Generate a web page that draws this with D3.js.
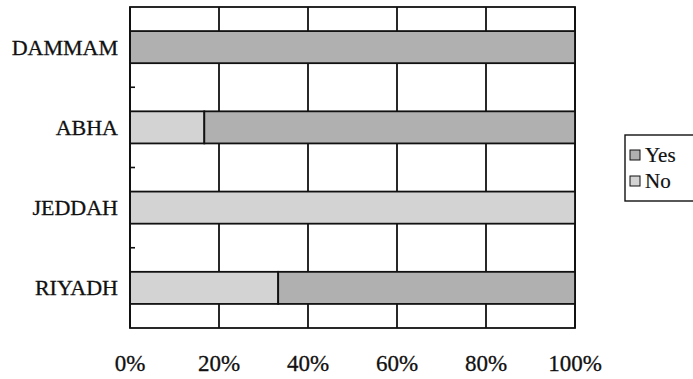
<!DOCTYPE html>
<html>
<head>
<meta charset="utf-8">
<script src="https://cdn.jsdelivr.net/npm/d3@7"></script>
<style>
  html, body { margin: 0; padding: 0; background: #fff; }
  svg { display: block; }
</style>
</head>
<body>
<svg id="chart" width="693" height="379"></svg>
<script>
// ---- data ----
const categories = ["DAMMAM", "ABHA", "JEDDAH", "RIYADH"];
const seriesNames = ["No", "Yes"];          // stacking order left -> right
const noValues  = [0, 16.7, 100, 33.3];
const yesValues = [100, 83.3, 0, 66.7];
const legendOrder = ["Yes", "No"];
const tickValues = [0, 20, 40, 60, 80, 100];
const tickLabels = ["0%", "20%", "40%", "60%", "80%", "100%"];

const colors = { Yes: "#b0b0b0", No: "#d3d3d3" };

const svg = d3.select("#chart");
const pLeft = 130, pRight = 575, pTop = 7, pBottom = 328;
const serif = "Liberation Serif, Times New Roman, serif";

const x = d3.scaleLinear().domain([0, 100]).range([pLeft, pRight]);
const y = d3.scaleBand().domain(categories).range([pTop, pBottom])
  .paddingInner(0.6).paddingOuter(0.3);

const rows = categories.map((c, i) => ({ cat: c, No: noValues[i], Yes: yesValues[i] }));
const stack = d3.stack().keys(seriesNames)(rows);

// plot border
svg.append("rect").attr("x", pLeft).attr("y", pTop)
  .attr("width", pRight - pLeft).attr("height", pBottom - pTop)
  .attr("fill", "#fff").attr("stroke", "#111").attr("stroke-width", 1.8);

// vertical gridlines
svg.append("g").selectAll("line").data(tickValues).join("line")
  .attr("x1", d => x(d)).attr("x2", d => x(d))
  .attr("y1", pTop).attr("y2", pBottom)
  .attr("stroke", "#111").attr("stroke-width", 1.8);

// bars
svg.append("g").selectAll("g").data(stack).join("g")
  .attr("fill", d => colors[d.key])
  .selectAll("rect").data(d => d.filter(s => s[1] - s[0] > 0)).join("rect")
  .attr("x", d => x(d[0]))
  .attr("y", d => y(d.data.cat))
  .attr("width", d => x(d[1]) - x(d[0]))
  .attr("height", y.bandwidth())
  .attr("stroke", "#111").attr("stroke-width", 1.8);

// left axis line and inward ticks at band boundaries
svg.append("line").attr("x1", pLeft).attr("x2", pLeft).attr("y1", pTop).attr("y2", pBottom)
  .attr("stroke", "#111").attr("stroke-width", 2);
const boundaries = categories.slice(1).map(c => y(c) - y.step() * y.paddingInner() / 2);
svg.append("g").selectAll("line").data(boundaries).join("line")
  .attr("x1", pLeft).attr("x2", pLeft + 5)
  .attr("y1", d => d).attr("y2", d => d)
  .attr("stroke", "#111").attr("stroke-width", 1.6);

// category labels
svg.append("g").selectAll("text").data(categories).join("text")
  .attr("x", 118)
  .attr("y", d => y(d) + y.bandwidth() / 2)
  .attr("text-anchor", "end")
  .attr("dominant-baseline", "central")
  .attr("font-family", serif)
  .attr("font-size", 22)
  .attr("fill", "#111")
  .attr("stroke", "#111").attr("stroke-width", 0.3)
  .text(d => d);

// x tick labels
svg.append("g").selectAll("text").data(tickValues).join("text")
  .attr("x", d => x(d))
  .attr("y", 371)
  .attr("text-anchor", "middle")
  .attr("font-family", serif)
  .attr("font-size", 23)
  .attr("fill", "#111")
  .attr("stroke", "#111").attr("stroke-width", 0.3)
  .text((d, i) => tickLabels[i]);

// legend
const lg = svg.append("g");
lg.append("rect").attr("x", 625).attr("y", 135).attr("width", 80).attr("height", 66)
  .attr("fill", "#fff").attr("stroke", "#111").attr("stroke-width", 1.4);
const li = lg.selectAll("g").data(legendOrder).join("g")
  .attr("transform", (d, i) => `translate(630, ${150 + i * 26})`);
li.append("rect").attr("x", 0).attr("y", 0).attr("width", 10).attr("height", 10)
  .attr("fill", d => colors[d]).attr("stroke", "#111").attr("stroke-width", 1);
li.append("text").attr("x", 15).attr("y", 5)
  .attr("dominant-baseline", "central")
  .attr("font-family", serif)
  .attr("font-size", 21)
  .attr("fill", "#111")
  .attr("stroke", "#111").attr("stroke-width", 0.2)
  .text(d => d);
</script>
</body>
</html>
